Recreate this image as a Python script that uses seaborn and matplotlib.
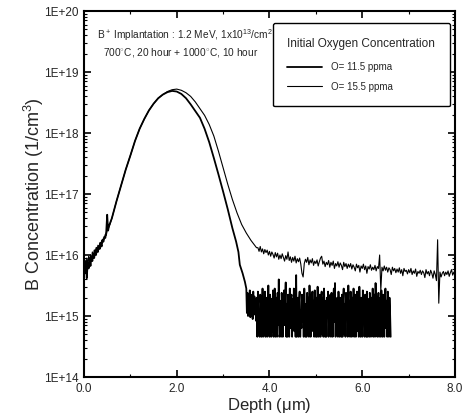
import numpy as np
import pandas as pd
import seaborn as sb
import matplotlib.pyplot as plt
from matplotlib.ticker import FixedLocator, FuncFormatter, LogLocator, NullFormatter

# --- data (depth in um, concentration as log10) ---
left_depth = [0.00, 0.02, 0.04, 0.06, 0.08, 0.10, 0.12, 0.14, 0.16, 0.18, 0.20,
              0.22, 0.24, 0.26, 0.28, 0.30, 0.32, 0.34, 0.36, 0.38, 0.40, 0.42,
              0.44, 0.46, 0.48, 0.50, 0.52, 0.54, 0.56, 0.58, 0.60]
thick_left = [15.85, 15.70, 15.90, 15.62, 15.88, 15.78, 15.95, 15.82, 15.98, 15.90,
              16.02, 15.95, 16.08, 16.00, 16.12, 16.05, 16.15, 16.10, 16.20, 16.14,
              16.25, 16.22, 16.30, 16.28, 16.38, 16.66, 16.40, 16.48, 16.52, 16.56, 16.60]
thin_left = [15.80, 15.92, 15.75, 15.95, 15.85, 15.98, 15.88, 16.00, 15.92, 16.05,
             15.98, 16.08, 16.02, 16.12, 16.06, 16.16, 16.10, 16.20, 16.15, 16.24,
             16.20, 16.28, 16.26, 16.34, 16.32, 16.40, 16.44, 16.46, 16.50, 16.55, 16.60]

thick_body_depth = [0.70, 0.80, 0.90, 1.00, 1.10, 1.20, 1.30, 1.40, 1.50, 1.60, 1.70,
                    1.80, 1.90, 2.00, 2.10, 2.20, 2.30, 2.40, 2.50, 2.60, 2.70, 2.80,
                    2.90, 3.00, 3.10, 3.20, 3.28, 3.33, 3.36, 3.42, 3.47]
thick_body = [16.88, 17.14, 17.40, 17.63, 17.87, 18.07, 18.23, 18.37, 18.48, 18.57, 18.63,
              18.67, 18.69, 18.68, 18.64, 18.57, 18.47, 18.36, 18.25, 18.07, 17.85, 17.59,
              17.32, 17.04, 16.75, 16.44, 16.22, 16.05, 15.84, 15.70, 15.56]

thin_body_depth = [0.70, 0.80, 0.90, 1.00, 1.10, 1.20, 1.30, 1.40, 1.50, 1.60, 1.70,
                   1.80, 1.90, 2.00, 2.10, 2.20, 2.30, 2.40, 2.50, 2.60, 2.70, 2.80,
                   2.90, 3.00, 3.10, 3.20, 3.30, 3.40, 3.50, 3.60, 3.68, 3.72]
thin_body = [16.88, 17.14, 17.40, 17.63, 17.87, 18.07, 18.23, 18.37, 18.48, 18.57, 18.63,
             18.68, 18.71, 18.72, 18.70, 18.66, 18.60, 18.51, 18.40, 18.29, 18.14, 17.95,
             17.70, 17.43, 17.16, 16.91, 16.69, 16.50, 16.36, 16.24, 16.16, 16.12]

# O = 11.5 ppma: noisy floor from 3.50 to 6.6125 um (step 0.0125)
thick_noise = [15.45, 15.05, 15.38, 15.00, 15.30, 15.12, 15.42, 14.98, 15.35, 15.08,
               15.28, 14.95, 15.40, 15.02, 15.32, 15.10, 15.25, 14.92,
               15.30, 14.66, 15.40, 14.85, 15.10, 14.66, 15.35, 15.20, 14.66, 14.80,
               15.45, 14.66, 15.25, 14.70, 15.40, 14.66, 15.15, 15.30, 14.66, 15.05,
               15.50, 14.90, 14.66, 15.35, 15.20, 14.66, 15.28, 14.75, 15.42, 14.66,
               15.20, 15.45, 14.66, 15.05, 15.30, 14.66, 15.38, 14.85, 15.60, 14.66,
               14.70, 15.25, 14.66, 15.38, 15.15, 14.66, 15.10, 15.42, 14.85, 15.30,
               15.55, 14.66, 15.20, 14.66, 15.35, 15.10, 14.66, 15.45, 14.80, 15.30,
               15.35, 14.66, 15.28, 14.90, 15.45, 14.75, 15.32, 14.66, 15.67, 14.66,
               15.00, 15.30, 14.66, 15.25, 15.40, 14.66, 15.10, 14.80, 15.35, 14.90,
               15.30, 14.66, 15.45, 15.05, 14.66, 15.20, 14.66, 15.38, 15.05, 15.30,
               14.66, 15.50, 15.15, 14.66, 15.35, 14.75, 15.40, 14.80, 15.25, 14.66,
               15.42, 15.20, 14.66, 15.30, 14.66, 15.48, 14.85, 14.66, 15.10, 15.35,
               14.66, 15.28, 15.40, 14.70, 15.30, 14.66, 15.45, 15.15, 14.66, 15.25,
               14.66, 15.30, 15.05, 15.40, 14.66, 15.25, 14.90, 15.35, 14.66, 15.38,
               15.20, 14.66, 15.30, 15.45, 14.90, 15.54, 14.66, 15.25, 14.80, 15.30,
               14.66, 15.40, 15.10, 14.66, 15.30, 15.20, 14.66, 15.35, 14.66, 15.28,
               15.45, 14.70, 15.20, 14.66, 15.38, 15.00, 15.32, 14.66, 15.50, 14.85,
               15.25, 14.66, 15.40, 15.10, 14.66, 15.30, 14.80, 15.45, 14.66, 15.20,
               15.35, 14.66, 15.22, 15.40, 14.75, 15.30, 14.66, 15.48, 15.05, 14.66,
               15.30, 15.15, 14.66, 15.42, 14.90, 15.25, 14.66, 15.35, 15.10, 14.66,
               15.40, 14.66, 15.28, 15.05, 14.66, 15.38, 15.20, 14.66, 15.30, 14.85,
               15.45, 14.66, 15.25, 15.35, 14.66, 15.54, 14.90, 15.30, 14.66, 15.20,
               15.38, 14.66, 15.10, 15.30, 14.66, 15.42, 15.00, 14.66, 15.35, 15.20,
               14.66, 15.30, 15.45, 14.80, 15.25, 14.66, 15.40, 15.10, 14.66, 15.30,
               15.05, 14.66]
thick_noise_depth = np.linspace(3.50, 6.6125, len(thick_noise))

# O = 15.5 ppma: tail from 3.75 to 8.0 um (step 0.025)
thin_tail = [16.12, 16.06, 16.14, 16.05, 16.10, 16.02, 16.09, 16.04, 16.08, 16.00,
             16.06, 15.98, 16.05, 16.01, 15.95, 16.04, 15.97, 16.03, 15.93, 16.00,
             15.94, 16.02, 15.96, 15.90, 15.99, 15.93, 16.05, 15.91, 15.97, 15.88,
             15.96, 15.90, 15.98, 15.87, 15.94, 15.89, 15.95, 15.85, 15.70, 15.64,
             15.86, 15.93, 15.88, 15.96, 15.84, 15.92, 15.87, 15.94, 15.83, 15.90,
             15.86, 15.92, 15.82, 15.89, 15.95, 15.98, 15.85, 15.90, 15.81, 15.88,
             15.84, 15.91, 15.80, 15.88, 15.83, 15.90, 15.78, 15.86, 15.82, 15.89,
             15.80, 15.87, 15.83, 15.76, 15.88, 15.81, 15.86, 15.78, 15.85, 15.80,
             15.86, 15.77, 15.84, 15.80, 15.74, 15.85, 15.79, 15.83, 15.72, 15.82,
             15.78, 15.85, 15.76, 15.82, 15.70, 15.81, 15.77, 15.84, 15.75, 15.80,
             15.76, 15.83, 15.74, 15.81, 15.78, 16.00, 15.42, 15.80, 15.74, 15.82,
             15.75, 15.80, 15.72, 15.79, 15.76, 15.68, 15.80, 15.74, 15.78, 15.71,
             15.77, 15.72, 15.79, 15.70, 15.76, 15.66, 15.78, 15.73, 15.75, 15.69,
             15.76, 15.71, 15.78, 15.68, 15.74, 15.70, 15.77, 15.65, 15.73, 15.70,
             15.75, 15.68, 15.74, 15.71, 15.63, 15.76, 15.69, 15.73, 15.66, 15.75,
             15.70, 15.62, 15.74, 15.68, 15.58, 16.25, 15.21, 15.72, 15.64, 15.70,
             15.73, 15.66, 15.72, 15.68, 15.74, 15.65, 15.71, 15.76, 15.67, 15.72,
             15.70]
thin_tail_depth = np.linspace(3.75, 8.0, len(thin_tail))

labels = ["O= 11.5 ppma", "O= 15.5 ppma"]

thick_x = left_depth + thick_body_depth + list(thick_noise_depth)
thick_y = thick_left + thick_body + thick_noise
thin_x = left_depth + thin_body_depth + list(thin_tail_depth)
thin_y = thin_left + thin_body + thin_tail

oData = pd.concat([
    pd.DataFrame({"depth": thick_x, "conc": 10.0 ** np.array(thick_y), "series": labels[0]}),
    pd.DataFrame({"depth": thin_x, "conc": 10.0 ** np.array(thin_y), "series": labels[1]}),
])

sb.set_style("ticks")
plt.rcParams['font.family'] = ['Liberation Sans', 'DejaVu Sans']
plt.rcParams['mathtext.fontset'] = 'custom'
plt.rcParams['mathtext.rm'] = 'Liberation Sans'
plt.rcParams['mathtext.it'] = 'Liberation Sans'

fig = plt.figure(figsize=(4.7, 4.17), dpi=100)
ax = fig.add_axes([0.1787, 0.0959, 0.7894, 0.8777])

for name, lw in zip(labels, [1.3, 0.8]):
    sb.lineplot(data=oData[oData["series"] == name], x="depth", y="conc",
                estimator=None, sort=False, color="black", linewidth=lw,
                label=name, ax=ax)

ax.set_yscale("log")
ax.set_ylim(1e14, 1e20)
ax.set_xlim(0, 8)
ax.xaxis.set_major_locator(FixedLocator([0, 2, 4, 6, 8]))
ax.xaxis.set_minor_locator(FixedLocator([1, 3, 5, 7]))
ax.xaxis.set_major_formatter(FuncFormatter(lambda v, p: "%.1f" % v))
ax.yaxis.set_major_locator(LogLocator(base=10, numticks=10))
ax.yaxis.set_minor_locator(LogLocator(base=10, subs=np.arange(2, 10), numticks=20))
ax.yaxis.set_minor_formatter(NullFormatter())
ax.yaxis.set_major_formatter(FuncFormatter(lambda v, p: "1E+%d" % round(np.log10(v))))

ax.tick_params(which="both", direction="in", top=True, right=True, labelsize=8.5, color="black")
ax.tick_params(which="major", length=5, width=1.2, pad=4)
ax.tick_params(which="minor", length=2.5, width=0.8)
for s in ax.spines.values():
    s.set_linewidth(1.5)
    s.set_color("black")

ax.set_xlabel("Depth ($\\mu$m)", fontsize=12, labelpad=1)
ax.set_ylabel("B Concentration (1/cm$^3$)", fontsize=13)
ax.yaxis.set_label_coords(-0.102, 0.5)

ax.text(0.035, 0.935, "B$^+$ Implantation : 1.2 MeV, 1x10$^{13}$/cm$^2$",
        transform=ax.transAxes, fontsize=7.3, va="center")
ax.text(0.051, 0.888, "700$^{\\circ}$C, 20 hour + 1000$^{\\circ}$C, 10 hour",
        transform=ax.transAxes, fontsize=7.3, va="center")

leg = ax.legend(loc="upper right", bbox_to_anchor=(0.986, 0.967), title="Initial Oxygen Concentration",
                fontsize=7, title_fontsize=8.5, frameon=True, fancybox=True,
                handlelength=3.6, handletextpad=0.9, labelspacing=1.0, borderpad=1.5,
                borderaxespad=0, alignment="left")
leg.get_frame().set_edgecolor("black")
leg.get_frame().set_linewidth(1.0)
leg.get_frame().set_alpha(1)
leg._legend_box.sep = 9

fig.savefig("out.png", dpi=100)
